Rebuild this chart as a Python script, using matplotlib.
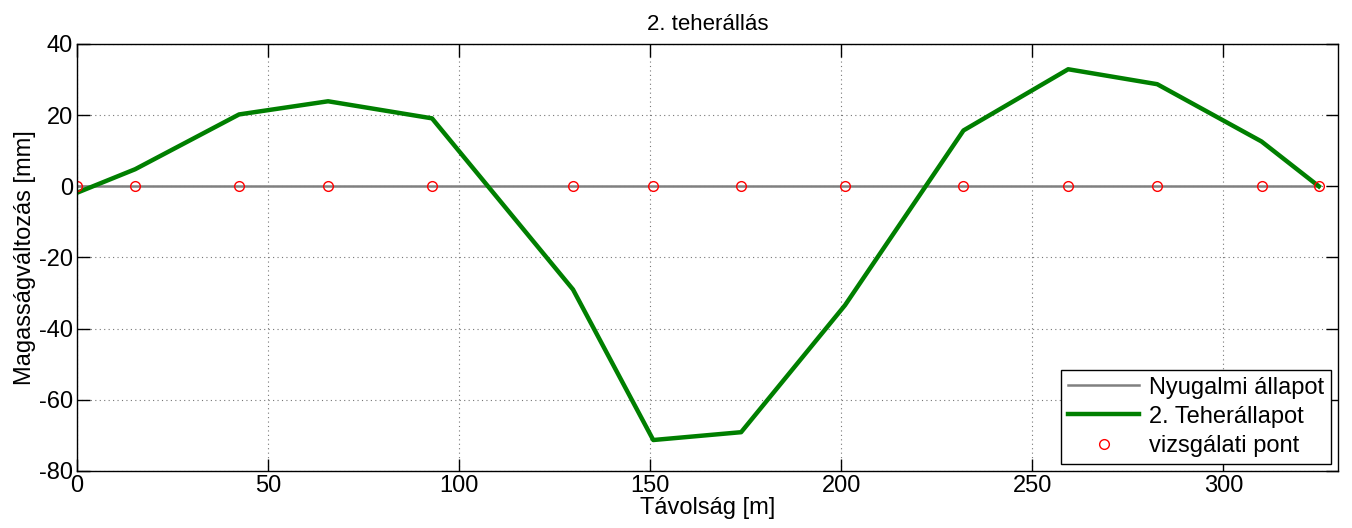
import matplotlib
matplotlib.use('Agg')
import matplotlib.pyplot as plt

# Deflection along the bridge, load case 2.

distance = [0, 15.2, 42.4, 65.7, 92.9, 129.8, 150.8, 173.8, 201.0,
            232.0, 259.4, 282.7, 310.0, 325.0]
deflection = [-1.8, 4.8, 20.2, 23.9, 19.1, -29.0, -71.3, -69.1, -33.4,
              15.7, 32.9, 28.7, 12.6, 0.0]
rest_state = [0.0] * len(distance)

plt.rcParams['font.family'] = ['Liberation Sans', 'DejaVu Sans']
plt.rcParams['font.size'] = 16
plt.rcParams['axes.unicode_minus'] = False

fig = plt.figure(figsize=(13.52, 5.28), dpi=100)
ax = fig.add_axes([0.057, 0.108, 0.9326, 0.8087])

ax.plot([distance[0], distance[-1]], [rest_state[0], rest_state[-1]],
        color='#808080', linewidth=1.8, label='Nyugalmi állapot')
ax.plot(distance, deflection, color='#007f00', linewidth=3.2,
        label='2. Teherállapot')
ax.plot(distance, rest_state, linestyle='none', marker='o', markersize=7,
        markerfacecolor='none', markeredgecolor='red', markeredgewidth=1.0,
        label='vizsgálati pont')

ax.set_xlim(0, 330)
ax.set_ylim(-80, 40)
ax.set_xticks(range(0, 301, 50))
ax.set_yticks(range(-80, 41, 20))
ax.grid(True, linestyle=(0, (1, 3)), color='#777777', linewidth=0.8)
ax.tick_params(direction='in', length=9, width=1, top=True, right=True,
               labelsize=17, colors='black', pad=3)
for spine in ax.spines.values():
    spine.set_linewidth(1.0)

ax.set_title('2. teherállás', fontsize=16, pad=10)
ax.set_xlabel('Távolság [m]', fontsize=17, labelpad=0)
ax.set_ylabel('Magasságváltozás [mm]', fontsize=17, labelpad=2)

leg = ax.legend(loc='lower right', fontsize=17, fancybox=False, framealpha=1,
                edgecolor='black', borderpad=0.3, handlelength=3.0,
                labelspacing=0.3, handletextpad=0.4, borderaxespad=0.3)
leg.get_frame().set_linewidth(1.0)

fig.savefig('out.png', dpi=100)
